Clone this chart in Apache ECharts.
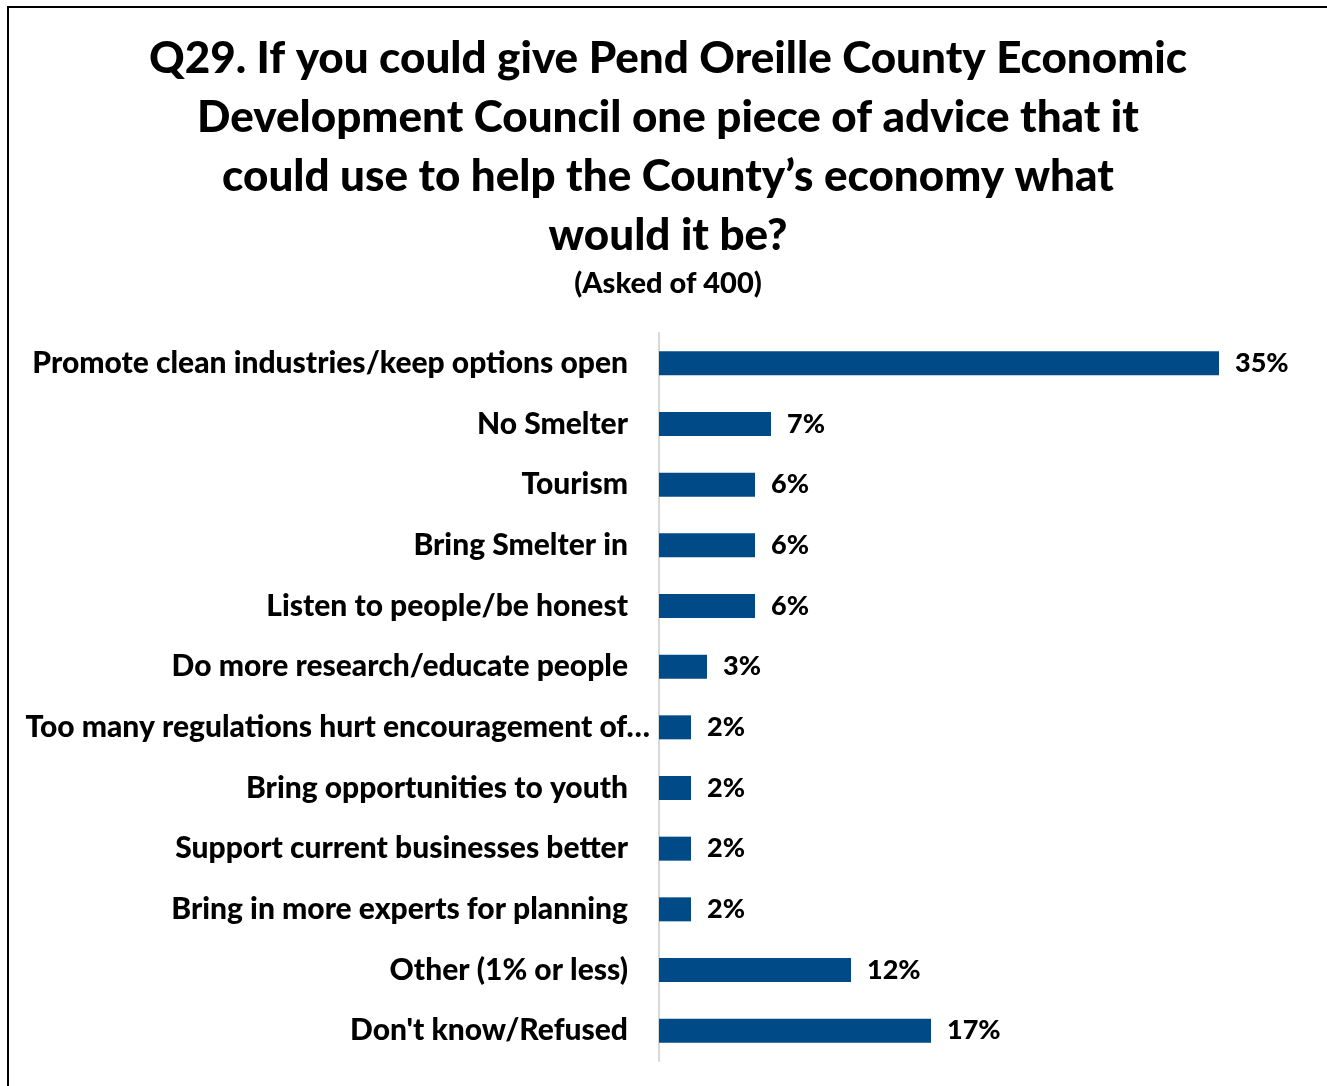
<!DOCTYPE html>
<html><head><meta charset="utf-8">
<script src="https://cdn.jsdelivr.net/npm/echarts@6/dist/echarts.min.js"></script>
<style>html,body{margin:0;padding:0;background:#fff}#c{width:1327px;height:1086px}</style>
</head><body><div id="c"></div>
<script>
const categories = [
  "Promote clean industries/keep options open",
  "No Smelter",
  "Tourism",
  "Bring Smelter in",
  "Listen to people/be honest",
  "Do more research/educate people",
  "Too many regulations hurt encouragement of…",
  "Bring opportunities to youth",
  "Support current businesses better",
  "Bring in more experts for planning",
  "Other (1% or less)",
  "Don't know/Refused"
];
const values = [35, 7, 6, 6, 6, 3, 2, 2, 2, 2, 12, 17];
const titleText = "Q29. If you could give Pend Oreille County Economic\nDevelopment Council one piece of advice that it\ncould use to help the County’s economy what\nwould it be?";
const subtitleText = "(Asked of 400)";

const FONT = "Lato, 'Open Sans', sans-serif";
const chart = echarts.init(document.getElementById('c'));
chart.setOption({
  backgroundColor: '#fff',
  animation: false,
  title: [
    {text: titleText, left: 663, top: 24, textAlign: 'center',
     textStyle: {fontFamily: FONT, fontWeight: 900, fontSize: 44, lineHeight: 59, color: '#000'}},
    {text: subtitleText, left: 663, top: 264, textAlign: 'center',
     textStyle: {fontFamily: FONT, fontWeight: 900, fontSize: 29, color: '#000'}}
  ],
  graphic: [
    {type: 'line', shape: {x1: 8, y1: 7, x2: 1327, y2: 7}, style: {stroke: '#000', lineWidth: 2}},
    {type: 'line', shape: {x1: 8, y1: 6, x2: 8, y2: 1086}, style: {stroke: '#000', lineWidth: 2}}
  ],
  grid: {left: 659, right: 108, top: 333, bottom: 25},
  xAxis: {type: 'value', min: 0, max: 35, show: false},
  yAxis: {
    type: 'category', inverse: true,
    data: categories.map(c => c.length > 42 ? {value: c, textStyle: {padding: [0, 0, 0, 0]}} : c),
    axisLine: {lineStyle: {color: '#d9d9d9', width: 2}},
    axisTick: {show: false},
    axisLabel: {margin: 9, padding: [0, 22, 0, 0], fontFamily: FONT, fontWeight: 900, fontSize: 30, color: '#000'}
  },
  series: [{
    type: 'bar', data: values, barWidth: 24,
    itemStyle: {color: '#004B87'},
    label: {show: true, position: 'right', distance: 16, formatter: '{c}%',
      fontFamily: FONT, fontWeight: 900, fontSize: 27, color: '#000'}
  }]
});
</script></body></html>
